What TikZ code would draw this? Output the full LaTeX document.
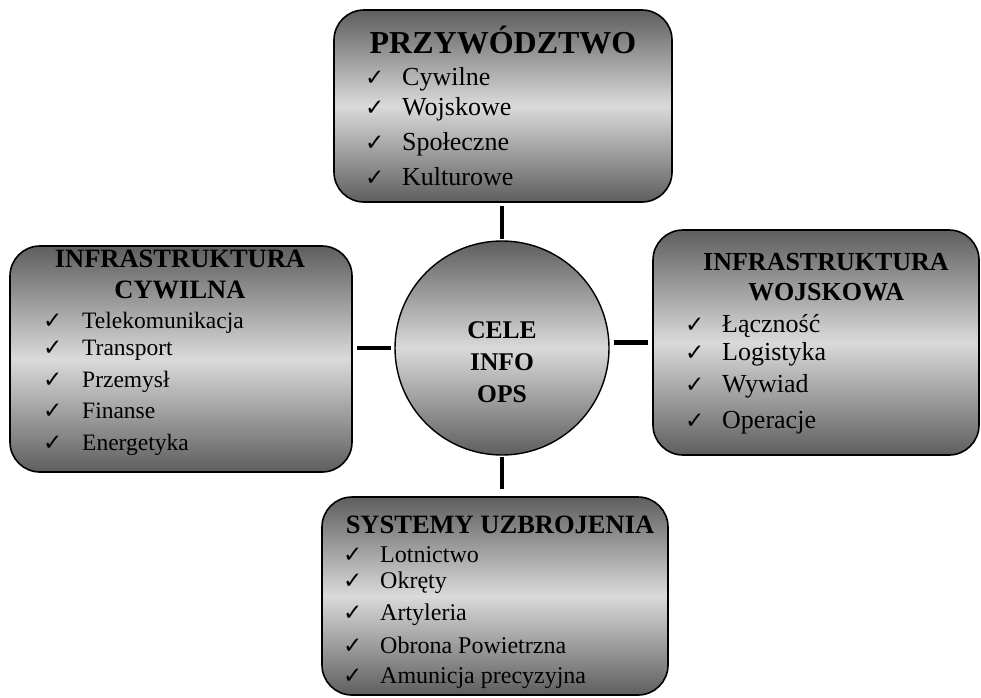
\documentclass[tikz,border=0pt]{standalone}
\usepackage{fontspec}
\setmainfont{Liberation Serif}
\newfontfamily\tickfont{DejaVu Sans}
\usetikzlibrary{calc}
\definecolor{edge}{HTML}{000000}
\definecolor{dark}{HTML}{5E5E5E}
\definecolor{light}{HTML}{DADADA}
\newcommand{\fsz}[1]{\fontsize{#1}{#1}\selectfont}
\tikzset{
  box/.style={draw=edge, line width=1.6pt, rounded corners=30pt,
    top color=dark, bottom color=dark, middle color=light, inner sep=0pt},
  core/.style={circle, draw=edge, line width=1.4pt, minimum size=214pt,
    top color=dark, bottom color=dark, middle color=light, inner sep=0pt},
  link/.style={draw=edge, line width=4.5pt},
  head/.style={anchor=base, inner sep=0pt, font=\bfseries},
  item/.style={anchor=base west, inner sep=0pt},
  tick/.style={anchor=base west, inner sep=0pt, font=\tickfont\fsz{23}}
}

\begin{document}
\begin{tikzpicture}[x=1pt, y=-1pt]
  \useasboundingbox (0,0) rectangle (981,697);

  % boxes and hub
  \node[box, minimum width=338pt, minimum height=192pt] (ldr) at (503,106) {};
  \node[box, minimum width=342pt, minimum height=226pt] (civ) at (181,359) {};
  \node[box, minimum width=326pt, minimum height=225pt] (mil) at (816,342.5) {};
  \node[box, minimum width=346pt, minimum height=198pt] (wpn) at (495,596) {};
  \node[core] (hub) at (502,348) {};

  % connectors
  \draw[link, shorten <=1pt, shorten >=3pt] (hub.north) -- (hub.north |- ldr.south);
  \draw[link, shorten <=3pt, shorten >=4pt] (hub.west) -- (hub.west -| civ.east);
  \draw[link, shorten <=4pt, shorten >=4pt] (hub.east |- mil.west) -- (mil.west);
  \draw[link, shorten <=1pt, shorten >=7pt] (hub.south) -- (hub.south |- wpn.north);

  % centre text
  \node[head, font=\bfseries\fsz{25.5}] (hub-a) at (502,338) {CELE};
  \node[head, font=\bfseries\fsz{25.5}] (hub-b) at (502,370) {INFO};
  \node[head, font=\bfseries\fsz{25.5}] (hub-c) at (502,402) {OPS};

  % leadership
  \node[head, font=\bfseries\fsz{32}] (ldr-h) at (503,53) {PRZYWÓDZTWO};
  \foreach \y/\t [count=\i] in {85/Cywilne, 115/Wojskowe, 150/Społeczne, 185/Kulturowe} {
    \node[tick] (ldr-t\i) at (365,\y) {✓};
    \node[item, font=\fsz{26}] (ldr-i\i) at (402,\y) {\t};
  }

  % civil infrastructure
  \node[head, font=\bfseries\fsz{26.5}] (civ-h) at (180,267) {INFRASTRUKTURA};
  \node[head, font=\bfseries\fsz{26.5}] (civ-g) at (180,298) {CYWILNA};
  \foreach \y/\t [count=\i] in {328/Telekomunikacja, 355/Transport, 387/Przemysł, 418/Finanse, 450/Energetyka} {
    \node[tick] (civ-t\i) at (43,\y) {✓};
    \node[item, font=\fsz{23.5}] (civ-i\i) at (82,\y) {\t};
  }

  % military infrastructure
  \node[head, font=\bfseries\fsz{26}] (mil-h) at (826,270) {INFRASTRUKTURA};
  \node[head, font=\bfseries\fsz{26}] (mil-g) at (826,300) {WOJSKOWA};
  \foreach \y/\t [count=\i] in {332/Łączność, 360/Logistyka, 392/Wywiad, 428/Operacje} {
    \node[tick] (mil-t\i) at (685,\y) {✓};
    \node[item, font=\fsz{26}] (mil-i\i) at (722,\y) {\t};
  }

  % weapon systems
  \node[head, font=\bfseries\fsz{26.5}] (wpn-h) at (500,533) {SYSTEMY UZBROJENIA};
  \foreach \y/\t [count=\i] in {562/Lotnictwo, 588/Okręty, 620/Artyleria, 653/Obrona Powietrzna, 683/Amunicja precyzyjna} {
    \node[tick] (wpn-t\i) at (343,\y) {✓};
    \node[item, font=\fsz{24}] (wpn-i\i) at (380,\y) {\t};
  }
\end{tikzpicture}
\end{document}
